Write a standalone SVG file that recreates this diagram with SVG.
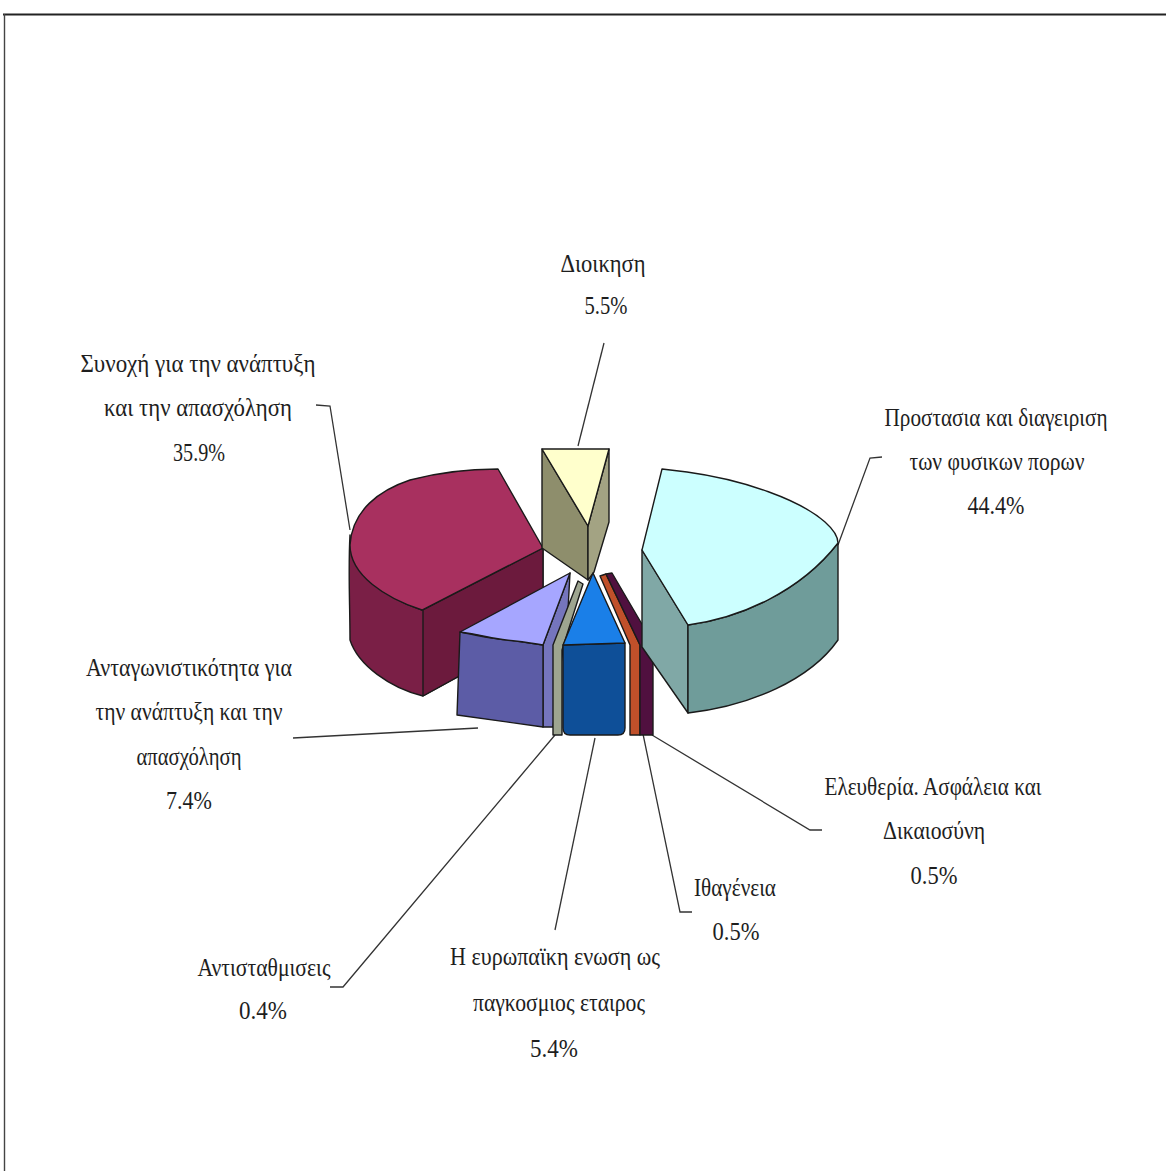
<svg xmlns="http://www.w3.org/2000/svg" width="1166" height="1171" viewBox="0 0 1166 1171">
<style>
.t{font-family:"Liberation Serif","DejaVu Serif",serif;font-size:26px;fill:#1e1e1e;text-anchor:middle}
.ld{fill:none;stroke:#333;stroke-width:1.3}
.e{stroke:#1a1a1a;stroke-width:1.4;stroke-linejoin:round}
</style>
<rect x="0" y="0" width="1166" height="1171" fill="#ffffff"/>
<g id="frame">
<line x1="3" y1="14.5" x2="1166" y2="14.5" stroke="#222" stroke-width="2.2"/>
<line x1="4.5" y1="14" x2="4.5" y2="1171" stroke="#444" stroke-width="1.4"/>
</g>

<g id="connectors">
<polyline class="ld" points="604,343 578,446"/>
<polyline class="ld" points="316,405 330,406 350,530"/>
<polyline class="ld" points="882,457 870,458 838,545"/>
<polyline class="ld" points="293,738 478,728"/>
<polyline class="ld" points="330,987 343,987 555,735"/>
<polyline class="ld" points="555,930 595,738"/>
<polyline class="ld" points="692,912 680,912 643,734"/>
<polyline class="ld" points="822,830 810,830 652,735"/>
</g>

<g id="slice-synochi">
<path class="e" fill="#7a1f46" d="M350,535 C348,570 350,605 350,640 C358,665 390,688 423,696 L543,630 L543,548 L422,610 C385,598 352,572 350,535 Z"/>
<path class="e" fill="#6c1a3d" d="M423,610 L543,548 L543,630 L423,696 Z"/>
<path class="e" fill="#a8305f" d="M498,469 L543,548 L422,610 C385,598 350,575 350,545 C352,510 380,490 410,480 C440,472 470,469 498,469 Z"/>
</g>

<g id="slice-dioikisi">
<path class="e" fill="#8e8e6c" d="M542,449 L588,526 L588,580 L542,548 Z"/>
<path class="e" fill="#a3a383" d="M609,449 L609,522 L594,572 L588,580 L588,526 Z"/>
<path class="e" fill="#ffffcc" d="M542,449 L609,449 L588,526 Z"/>
</g>

<g id="slice-antagonistikotita">
<path class="e" fill="#7575bd" d="M543,645 L570,573 L568,610 L553,727 L543,727 Z"/>
<path class="e" fill="#5c5ca6" d="M460,632 C475,635 495,640 510,640 L543,645 L543,727 L457,715 Z"/>
<path class="e" fill="#a6a6ff" d="M460,632 L570,573 L543,645 C520,641 500,640 488,637 C475,634 468,633 460,632 Z"/>
</g>

<g id="slice-antistathmiseis">
<path class="e" fill="#9ea590" d="M553,645 L578,581 L583,584 L562,650 L562,735 L553,735 Z"/>
</g>

<g id="slice-europi">
<path class="e" fill="#0e4f98" d="M563,645 L625,643 L625,728 Q625,735 618,735 L570,735 Q563,735 563,728 Z"/>
<path class="e" fill="#1a7fe8" d="M593,573 L625,643 L563,645 Z"/>
</g>

<g id="slice-ithageneia">
<path class="e" fill="#c0502a" d="M600,576 L606,574 L640,645 L640,735 L630,735 L630,645 Z"/>
</g>

<g id="slice-eleftheria">
<path class="e" fill="#50103f" d="M606,574 L612,573 L653,643 L653,735 L640,735 L640,645 Z"/>
</g>

<g id="slice-prostasia">
<path class="e" fill="#80a8a6" d="M642,550 L688,625 L688,713 L642,647 Z"/>
<path class="e" fill="#6f9c9a" d="M688,625 C740,618 800,592 838,543 L838,640 C810,680 750,706 688,713 Z"/>
<path class="e" fill="#ccffff" d="M662,469 L687,472 C745,480 800,500 825,522 C834,530 838,537 838,543 C800,592 740,618 688,625 L642,550 Z"/>
</g>

<g id="label-dioikisi">
<text class="t" x="603" y="272" textLength="85" lengthAdjust="spacingAndGlyphs">Διοικηση</text>
<text class="t" x="606" y="314" textLength="43" lengthAdjust="spacingAndGlyphs">5.5%</text>
</g>
<g id="label-synochi">
<text class="t" x="198" y="372" textLength="235" lengthAdjust="spacingAndGlyphs">Συνοχή για την ανάπτυξη</text>
<text class="t" x="198" y="416" textLength="188" lengthAdjust="spacingAndGlyphs">και την απασχόληση</text>
<text class="t" x="199" y="461" textLength="52" lengthAdjust="spacingAndGlyphs">35.9%</text>
</g>
<g id="label-prostasia">
<text class="t" x="996" y="426" textLength="223" lengthAdjust="spacingAndGlyphs">Προστασια και διαγειριση</text>
<text class="t" x="997" y="470" textLength="175" lengthAdjust="spacingAndGlyphs">των φυσικων πορων</text>
<text class="t" x="996" y="514" textLength="57" lengthAdjust="spacingAndGlyphs">44.4%</text>
</g>
<g id="label-antagonistikotita">
<text class="t" x="189" y="676" textLength="206" lengthAdjust="spacingAndGlyphs">Ανταγωνιστικότητα για</text>
<text class="t" x="189" y="720" textLength="187" lengthAdjust="spacingAndGlyphs">την ανάπτυξη και την</text>
<text class="t" x="189" y="765" textLength="105" lengthAdjust="spacingAndGlyphs">απασχόληση</text>
<text class="t" x="189" y="809" textLength="46" lengthAdjust="spacingAndGlyphs">7.4%</text>
</g>
<g id="label-eleftheria">
<text class="t" x="933" y="795" textLength="217" lengthAdjust="spacingAndGlyphs">Ελευθερία. Ασφάλεια και</text>
<text class="t" x="934" y="839" textLength="102" lengthAdjust="spacingAndGlyphs">Δικαιοσύνη</text>
<text class="t" x="934" y="884" textLength="47" lengthAdjust="spacingAndGlyphs">0.5%</text>
</g>
<g id="label-ithageneia">
<text class="t" x="735" y="896" textLength="82" lengthAdjust="spacingAndGlyphs">Ιθαγένεια</text>
<text class="t" x="736" y="940" textLength="47" lengthAdjust="spacingAndGlyphs">0.5%</text>
</g>
<g id="label-antistathmiseis">
<text class="t" x="264" y="976" textLength="133" lengthAdjust="spacingAndGlyphs">Αντισταθμισεις</text>
<text class="t" x="263" y="1019" textLength="48" lengthAdjust="spacingAndGlyphs">0.4%</text>
</g>
<g id="label-europi">
<text class="t" x="555" y="965" textLength="210" lengthAdjust="spacingAndGlyphs">Η ευρωπαϊκη ενωση ως</text>
<text class="t" x="559" y="1011" textLength="172" lengthAdjust="spacingAndGlyphs">παγκοσμιος εταιρος</text>
<text class="t" x="554" y="1057" textLength="48" lengthAdjust="spacingAndGlyphs">5.4%</text>
</g>
</svg>
